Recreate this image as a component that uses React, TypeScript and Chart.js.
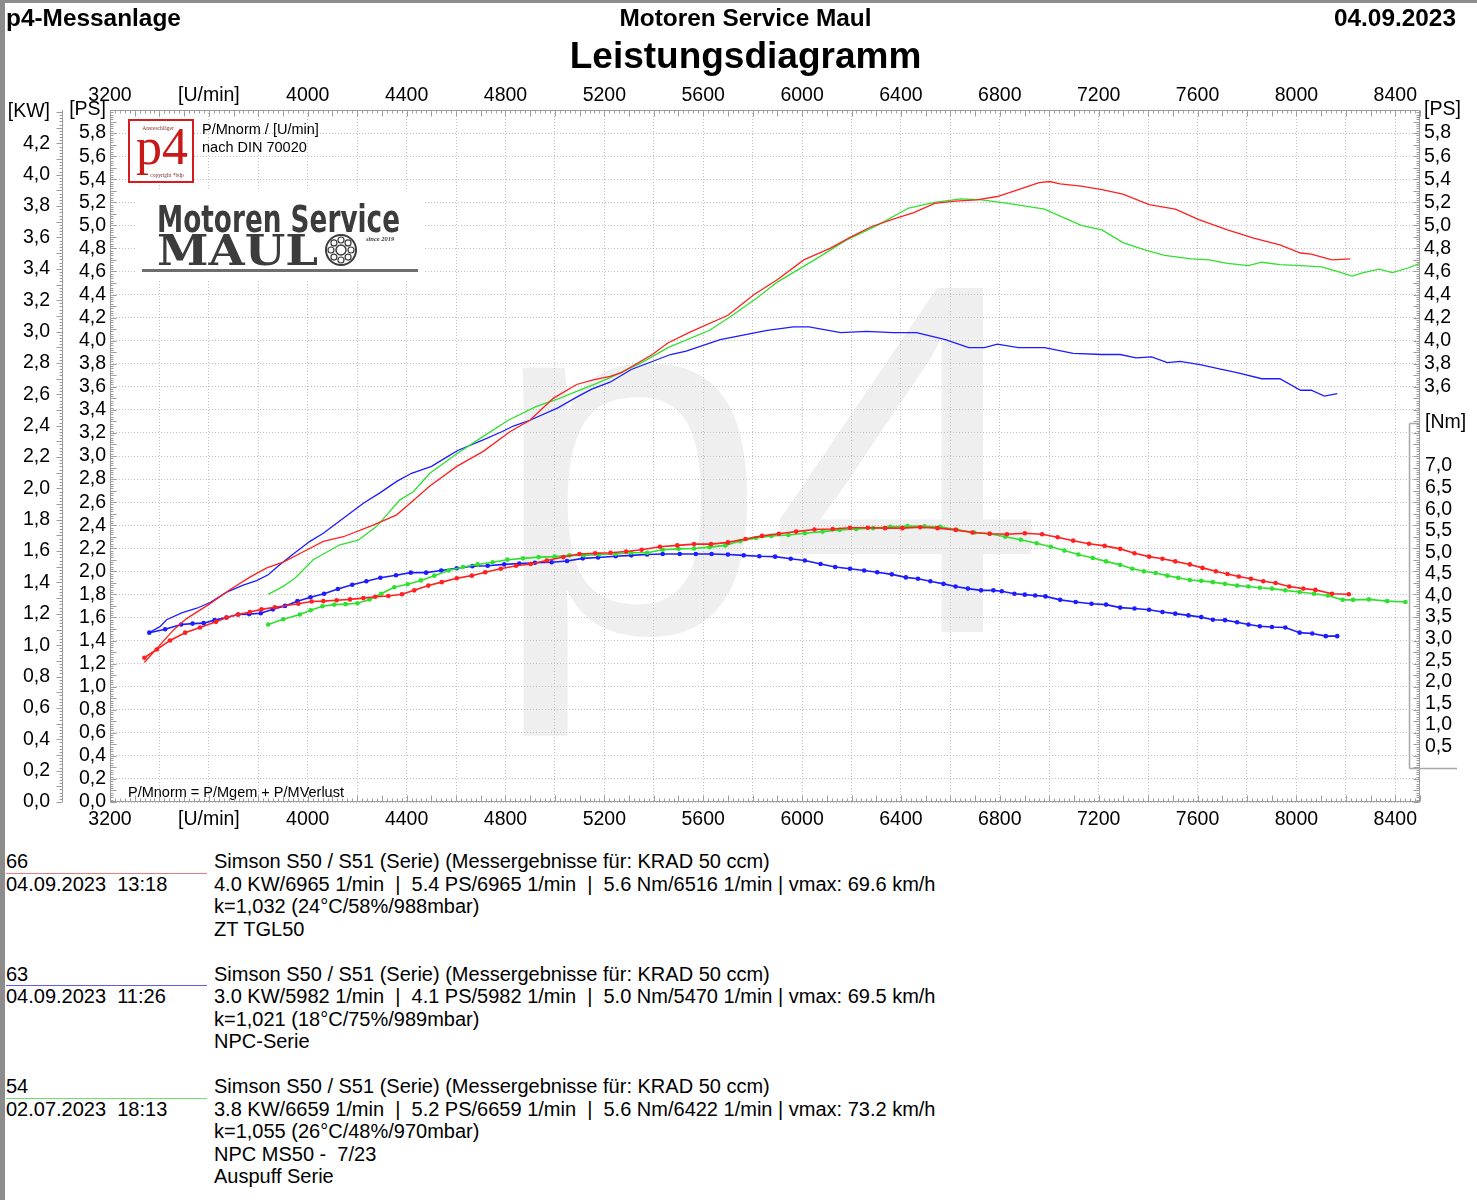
import React, { useEffect, useRef } from "react";
import { Chart, registerables } from "chart.js";
Chart.register(...registerables);

const FONT = '"Liberation Sans", Arial, Helvetica, sans-serif';

// ---------- data (rpm / values) ----------
const redPsRpm = [3339, 3389, 3456, 3510, 3605, 3685, 3766, 3834, 3901, 3982, 4063, 4144, 4265, 4360, 4414, 4494, 4603, 4710, 4818, 4899, 4993, 5088, 5155, 5223, 5267, 5394, 5457, 5542, 5700, 5806, 5901, 6007, 6113, 6198, 6282, 6378, 6452, 6536, 6621, 6706, 6790, 6875, 6959, 7002, 7044, 7129, 7213, 7298, 7404, 7510, 7605, 7721, 7827, 7933, 8017, 8060, 8144, 8218];
const redPs = [1.21, 1.33, 1.49, 1.59, 1.72, 1.84, 1.95, 2.03, 2.08, 2.17, 2.26, 2.30, 2.40, 2.49, 2.59, 2.74, 2.91, 3.04, 3.21, 3.31, 3.50, 3.62, 3.66, 3.69, 3.72, 3.88, 3.98, 4.07, 4.22, 4.40, 4.53, 4.70, 4.80, 4.90, 4.99, 5.06, 5.11, 5.19, 5.21, 5.22, 5.25, 5.31, 5.37, 5.38, 5.36, 5.34, 5.31, 5.27, 5.18, 5.14, 5.05, 4.96, 4.89, 4.83, 4.76, 4.75, 4.70, 4.71];

const bluePsRpm = [3359, 3402, 3429, 3490, 3551, 3605, 3672, 3739, 3793, 3840, 3888, 3935, 4009, 4063, 4144, 4225, 4292, 4360, 4420, 4501, 4562, 4609, 4710, 4785, 4832, 4899, 5014, 5088, 5149, 5223, 5309, 5468, 5531, 5669, 5859, 5965, 6028, 6156, 6261, 6367, 6463, 6580, 6674, 6738, 6790, 6875, 6981, 7097, 7213, 7287, 7351, 7414, 7478, 7530, 7615, 7679, 7764, 7860, 7933, 8017, 8060, 8113, 8165];
const bluePs = [1.47, 1.52, 1.58, 1.64, 1.68, 1.73, 1.82, 1.88, 1.92, 1.97, 2.06, 2.14, 2.26, 2.33, 2.46, 2.59, 2.68, 2.78, 2.85, 2.91, 2.99, 3.05, 3.14, 3.21, 3.26, 3.31, 3.42, 3.51, 3.58, 3.64, 3.75, 3.88, 3.91, 4.01, 4.09, 4.12, 4.12, 4.07, 4.08, 4.07, 4.07, 4.01, 3.94, 3.94, 3.97, 3.94, 3.94, 3.89, 3.88, 3.88, 3.85, 3.86, 3.81, 3.82, 3.79, 3.76, 3.72, 3.67, 3.67, 3.57, 3.57, 3.52, 3.54];

const greenPsRpm = [3840, 3901, 3948, 4022, 4130, 4204, 4279, 4373, 4427, 4494, 4603, 4710, 4811, 4926, 5007, 5088, 5169, 5223, 5351, 5457, 5626, 5711, 5817, 5901, 6050, 6177, 6304, 6431, 6536, 6643, 6727, 6832, 6981, 7129, 7213, 7298, 7383, 7467, 7573, 7647, 7721, 7806, 7859, 7933, 8017, 8102, 8165, 8225, 8271, 8335, 8388, 8451, 8500];
const greenPs = [1.80, 1.87, 1.94, 2.10, 2.23, 2.27, 2.39, 2.62, 2.69, 2.85, 3.02, 3.17, 3.31, 3.43, 3.49, 3.56, 3.63, 3.68, 3.81, 3.94, 4.09, 4.21, 4.37, 4.51, 4.70, 4.87, 5.00, 5.15, 5.20, 5.23, 5.22, 5.19, 5.14, 5.00, 4.96, 4.85, 4.79, 4.74, 4.71, 4.70, 4.67, 4.65, 4.68, 4.66, 4.65, 4.64, 4.60, 4.56, 4.59, 4.62, 4.59, 4.63, 4.67];

const redNmRpm = [3339, 3389, 3443, 3504, 3564, 3629, 3672, 3719, 3766, 3813, 3867, 3962, 4016, 4063, 4117, 4171, 4225, 4273, 4326, 4381, 4431, 4488, 4542, 4603, 4664, 4718, 4781, 4843, 4902, 4967, 5034, 5099, 5163, 5225, 5288, 5351, 5425, 5495, 5563, 5632, 5700, 5771, 5838, 5906, 5976, 6050, 6124, 6194, 6266, 6336, 6406, 6478, 6548, 6621, 6689, 6759, 6829, 6901, 6971, 7034, 7097, 7161, 7224, 7287, 7345, 7404, 7458, 7510, 7569, 7620, 7674, 7721, 7767, 7816, 7866, 7916, 7971, 8028, 8077, 8144, 8212];
const redNm = [2.56, 2.75, 2.96, 3.14, 3.26, 3.39, 3.49, 3.56, 3.62, 3.68, 3.73, 3.81, 3.86, 3.87, 3.89, 3.91, 3.94, 3.97, 3.99, 4.03, 4.12, 4.23, 4.31, 4.40, 4.46, 4.54, 4.62, 4.69, 4.73, 4.81, 4.89, 4.96, 4.98, 4.99, 5.02, 5.06, 5.13, 5.16, 5.19, 5.19, 5.23, 5.31, 5.38, 5.43, 5.48, 5.53, 5.54, 5.57, 5.57, 5.56, 5.56, 5.58, 5.56, 5.52, 5.46, 5.43, 5.42, 5.44, 5.42, 5.35, 5.27, 5.20, 5.15, 5.08, 4.98, 4.90, 4.85, 4.79, 4.72, 4.64, 4.56, 4.50, 4.44, 4.39, 4.33, 4.29, 4.21, 4.16, 4.13, 4.04, 4.03];

const blueNmRpm = [3359, 3423, 3488, 3534, 3579, 3623, 3671, 3718, 3763, 3810, 3859, 3908, 3958, 4011, 4066, 4122, 4180, 4237, 4294, 4357, 4417, 4479, 4540, 4603, 4666, 4728, 4795, 4856, 4919, 4987, 5049, 5113, 5175, 5246, 5309, 5373, 5436, 5505, 5570, 5634, 5700, 5764, 5827, 5891, 5954, 6011, 6075, 6134, 6194, 6251, 6304, 6363, 6420, 6469, 6519, 6572, 6621, 6671, 6724, 6774, 6808, 6859, 6901, 6943, 6985, 7044, 7107, 7171, 7230, 7287, 7345, 7404, 7458, 7510, 7563, 7615, 7662, 7711, 7760, 7806, 7852, 7901, 7955, 8013, 8064, 8119, 8165];
const blueNm = [3.14, 3.22, 3.33, 3.35, 3.36, 3.43, 3.49, 3.56, 3.57, 3.59, 3.68, 3.76, 3.87, 3.96, 4.04, 4.15, 4.25, 4.33, 4.41, 4.47, 4.53, 4.53, 4.58, 4.63, 4.68, 4.69, 4.72, 4.74, 4.76, 4.77, 4.80, 4.86, 4.88, 4.91, 4.93, 4.95, 4.96, 4.96, 4.96, 4.96, 4.95, 4.93, 4.91, 4.90, 4.85, 4.81, 4.73, 4.66, 4.62, 4.58, 4.54, 4.49, 4.42, 4.39, 4.33, 4.27, 4.21, 4.16, 4.12, 4.12, 4.10, 4.04, 4.02, 4.00, 3.98, 3.90, 3.85, 3.81, 3.79, 3.72, 3.70, 3.67, 3.62, 3.58, 3.54, 3.50, 3.44, 3.43, 3.38, 3.33, 3.29, 3.27, 3.26, 3.14, 3.12, 3.06, 3.06];

const greenNmRpm = [3840, 3901, 3968, 4012, 4059, 4107, 4153, 4201, 4250, 4297, 4350, 4404, 4458, 4512, 4570, 4628, 4687, 4748, 4808, 4871, 4934, 4999, 5059, 5117, 5179, 5246, 5309, 5373, 5436, 5500, 5563, 5626, 5690, 5750, 5813, 5876, 5945, 6011, 6083, 6152, 6219, 6288, 6357, 6427, 6495, 6559, 6625, 6697, 6759, 6822, 6885, 6949, 7006, 7061, 7118, 7176, 7230, 7287, 7336, 7383, 7430, 7478, 7522, 7569, 7615, 7662, 7711, 7760, 7806, 7852, 7901, 7955, 8013, 8071, 8127, 8187, 8229, 8293, 8367, 8441];
const greenNm = [3.33, 3.45, 3.56, 3.66, 3.75, 3.79, 3.80, 3.82, 3.91, 4.04, 4.19, 4.26, 4.35, 4.46, 4.58, 4.66, 4.72, 4.77, 4.83, 4.86, 4.89, 4.90, 4.93, 4.93, 4.95, 4.96, 4.99, 4.99, 5.06, 5.08, 5.09, 5.12, 5.16, 5.26, 5.33, 5.38, 5.40, 5.44, 5.48, 5.52, 5.54, 5.56, 5.59, 5.61, 5.60, 5.59, 5.52, 5.46, 5.43, 5.36, 5.29, 5.21, 5.13, 5.04, 4.95, 4.87, 4.79, 4.71, 4.62, 4.56, 4.52, 4.46, 4.41, 4.36, 4.34, 4.31, 4.27, 4.23, 4.21, 4.18, 4.16, 4.12, 4.08, 4.04, 4.00, 3.90, 3.90, 3.91, 3.87, 3.85];

// tick label lists
const xLabelSteps = [3200, 3600, 4000, 4400, 4800, 5200, 5600, 6000, 6400, 6800, 7200, 7600, 8000, 8400];
const xUnitLabel = "[U/min]";

// ---------- legend entries ----------
const runs = [
  { id: "66", date: "04.09.2023  13:18", color: "#f07c7c", lines: ["Simson S50 / S51 (Serie) (Messergebnisse für: KRAD 50 ccm)", "4.0 KW/6965 1/min  |  5.4 PS/6965 1/min  |  5.6 Nm/6516 1/min | vmax: 69.6 km/h", "k=1,032 (24°C/58%/988mbar)", "ZT TGL50"] },
  { id: "63", date: "04.09.2023  11:26", color: "#5c5cf0", lines: ["Simson S50 / S51 (Serie) (Messergebnisse für: KRAD 50 ccm)", "3.0 KW/5982 1/min  |  4.1 PS/5982 1/min  |  5.0 Nm/5470 1/min | vmax: 69.5 km/h", "k=1,021 (18°C/75%/989mbar)", "NPC-Serie"] },
  { id: "54", date: "02.07.2023  18:13", color: "#6ee06e", lines: ["Simson S50 / S51 (Serie) (Messergebnisse für: KRAD 50 ccm)", "3.8 KW/6659 1/min  |  5.2 PS/6659 1/min  |  5.6 Nm/6422 1/min | vmax: 73.2 km/h", "k=1,055 (26°C/48%/970mbar)", "NPC MS50 -  7/23", "Auspuff Serie"] },
];

const RED = "#ff2020";
const BLUE = "#1c1cff";
const GREEN = "#2fe02f";

const KW_FACTOR = 0.7355;
const NM_MIN = -0.78;
const NM_MAX = 15.24;

const comma = (v: number) => v.toFixed(1).replace(".", ",");
const pts = (xs: number[], ys: number[]) => xs.map((x, i) => ({ x, y: ys[i] }));

function fitText(ctx: CanvasRenderingContext2D, text: string, x: number, y: number, w: number) {
  const m = ctx.measureText(text).width;
  ctx.save();
  ctx.translate(x, y);
  ctx.scale(w / m, 1);
  ctx.fillText(text, 0, 0);
  ctx.restore();
}

const decor = {
  id: "decor",
  afterLayout(chart: any) {
    // give the torque axis room for its labels (it sits on top of the right PS axis)
    const s = chart.scales.yNm;
    if (s) {
      s.right = s.left + 57;
      s.width = 57;
    }
  },
  beforeDraw(chart: any) {
    const ctx = chart.ctx;
    const a = chart.chartArea;
    ctx.save();
    ctx.fillStyle = "#ffffff";
    ctx.fillRect(0, 0, chart.width, chart.height);
    ctx.beginPath();
    ctx.rect(a.left, a.top, a.right - a.left, a.bottom - a.top);
    ctx.clip();
    ctx.fillStyle = "#efefef";
    ctx.font = `500px ${FONT}`;
    ctx.textBaseline = "alphabetic";
    ctx.fillText("p4", 490, 632);
    ctx.restore();
  },
  beforeDatasetsDraw(chart: any) {
    const ctx = chart.ctx;
    ctx.save();
    // logo white background
    ctx.fillStyle = "#ffffff";
    ctx.fillRect(137, 189, 286, 90);
    // p4 box
    ctx.fillRect(128, 119, 66, 64);
    ctx.strokeStyle = "#d61c1c";
    ctx.lineWidth = 2;
    ctx.strokeRect(129, 120, 64, 62);
    ctx.fillStyle = "#c81818";
    ctx.font = '52px "Liberation Serif", "Times New Roman", serif';
    ctx.textBaseline = "alphabetic";
    ctx.fillText("p4", 136, 164);
    ctx.fillStyle = "#7a3030";
    ctx.font = '5.5px "Liberation Serif", serif';
    ctx.textAlign = "center";
    ctx.fillText("Ansreschläger", 158, 130);
    ctx.fillText("copyright *bdp", 167, 177);
    ctx.textAlign = "left";
    // texts
    ctx.fillStyle = "#000";
    ctx.font = `14.5px ${FONT}`;
    ctx.fillText("P/Mnorm / [U/min]", 202, 134);
    ctx.fillText("nach DIN 70020", 202, 152);
    ctx.fillText("P/Mnorm = P/Mgem + P/MVerlust", 128, 797);
    // Motoren Service MAUL logo
    ctx.fillStyle = "#3c3c3c";
    ctx.font = 'bold 37px "DejaVu Sans", sans-serif';
    fitText(ctx, "Motoren Service", 157, 232, 243);
    ctx.font = 'bold 42px "DejaVu Serif", serif';
    fitText(ctx, "MAUL", 157, 265, 161);
    // bearing
    ctx.strokeStyle = "#3c3c3c";
    ctx.lineWidth = 2;
    ctx.beginPath();
    ctx.arc(341, 250, 15, 0, Math.PI * 2);
    ctx.stroke();
    ctx.lineWidth = 1.5;
    ctx.beginPath();
    ctx.arc(341, 250, 5, 0, Math.PI * 2);
    ctx.stroke();
    ctx.lineWidth = 1.2;
    for (let k = 0; k < 8; k++) {
      const ang = (k * Math.PI) / 4;
      ctx.beginPath();
      ctx.arc(341 + Math.cos(ang) * 10, 250 + Math.sin(ang) * 10, 3, 0, Math.PI * 2);
      ctx.stroke();
    }
    ctx.fillStyle = "#3c3c3c";
    ctx.font = 'italic bold 6.5px "Liberation Serif", serif';
    ctx.fillText("since 2019", 366, 241);
    ctx.fillStyle = "#6e6e6e";
    ctx.fillRect(142, 269, 276, 3);
    ctx.restore();
  },
  afterDatasetsDraw(chart: any) {
    const ctx = chart.ctx;
    const a = chart.chartArea;
    const xs = chart.scales.x;
    const yp = chart.scales.yPS;
    const yk = chart.scales.yKW;
    const yn = chart.scales.yNm;
    ctx.save();
    ctx.strokeStyle = "#9c9c9c";
    ctx.lineWidth = 1;
    const line = (x1: number, y1: number, x2: number, y2: number) => {
      ctx.beginPath();
      ctx.moveTo(x1, y1);
      ctx.lineTo(x2, y2);
      ctx.stroke();
    };
    const L = Math.round(a.left) + 0.5;
    const R = Math.round(a.right) - 0.5;
    const T = Math.round(a.top) + 0.5;
    const B = Math.round(a.bottom) - 0.5;
    ctx.strokeRect(L, T, R - L, B - T);
    for (let r = 3200; r <= 8500; r += 20) {
      const px = Math.round(xs.getPixelForValue(r)) + 0.5;
      const len = r % 100 === 0 ? 6 : 3;
      line(px, B, px, B - len);
      line(px, T, px, T + len);
    }
    for (let i = 0; i <= 300; i++) {
      const py = Math.round(yp.getPixelForValue(i * 0.02)) + 0.5;
      const len = i % 5 === 0 ? 6 : 3;
      line(L, py, L + len, py);
      line(R, py, R - len, py);
    }
    // KW ruler
    const kx = 62.5;
    line(kx, yk.getPixelForValue(0), kx, a.top);
    for (let i = 0; i <= 220; i++) {
      const py = Math.round(yk.getPixelForValue(i * 0.02)) + 0.5;
      const len = i % 5 === 0 ? 6 : 3;
      line(kx - len, py, kx, py);
    }
    // Nm box
    const nt = Math.round(yn.getPixelForValue(8)) + 0.5;
    const nb = Math.round(yn.getPixelForValue(0)) + 0.5;
    ctx.strokeStyle = "#a8a8a8";
    ctx.lineWidth = 1.5;
    line(1409.5, nt, 1409.5, nb);
    line(1409.5, nt, 1419, nt);
    line(1409.5, nb, 1457, nb);
    ctx.restore();
  },
};

export default function App() {
  const ref = useRef<HTMLCanvasElement | null>(null);

  useEffect(() => {
    if (!ref.current) return;
    Chart.defaults.font.family = FONT;
    Chart.defaults.color = "#000";

    const gridY = { color: "#c2c2c2", lineWidth: 1, drawTicks: false };
    const tickFont = { size: 19.5, family: FONT };

    const xTicks = (scale: any) => {
      const t: any[] = [];
      for (let v = 3200; v <= 8400; v += 200) t.push({ value: v });
      scale.ticks = t;
    };
    const xLabel = (v: any) => {
      const n = Number(v);
      if (!xLabelSteps.includes(n)) return "";
      return n === 3600 ? xUnitLabel : String(n);
    };

    const chart = new Chart(ref.current, {
      type: "line",
      data: {
        datasets: [
          { label: "66 P", data: pts(redPsRpm, redPs), yAxisID: "yPS", borderColor: RED, borderWidth: 1.3, pointRadius: 0, tension: 0 },
          { label: "54 P", data: pts(greenPsRpm, greenPs), yAxisID: "yPS", borderColor: GREEN, borderWidth: 1.3, pointRadius: 0, tension: 0 },
          { label: "63 P", data: pts(bluePsRpm, bluePs), yAxisID: "yPS", borderColor: BLUE, borderWidth: 1.3, pointRadius: 0, tension: 0 },
          { label: "66 M", data: pts(redNmRpm, redNm), yAxisID: "yNm", borderColor: RED, backgroundColor: RED, borderWidth: 1.6, pointRadius: 2.3, pointBorderWidth: 0, pointBackgroundColor: RED, tension: 0 },
          { label: "54 M", data: pts(greenNmRpm, greenNm), yAxisID: "yNm", borderColor: GREEN, backgroundColor: GREEN, borderWidth: 1.6, pointRadius: 2.3, pointBorderWidth: 0, pointBackgroundColor: GREEN, tension: 0 },
          { label: "63 M", data: pts(blueNmRpm, blueNm), yAxisID: "yNm", borderColor: BLUE, backgroundColor: BLUE, borderWidth: 1.6, pointRadius: 2.3, pointBorderWidth: 0, pointBackgroundColor: BLUE, tension: 0 },
        ],
      },
      options: {
        animation: false,
        responsive: false,
        devicePixelRatio: 1,
        layout: { padding: { top: 80, left: 0, right: 0, bottom: 0 } },
        plugins: { legend: { display: false }, tooltip: { enabled: false }, title: { display: false } },
        scales: {
          x: {
            type: "linear", position: "bottom", min: 3200, max: 8500,
            afterBuildTicks: xTicks,
            afterFit: (s: any) => { s.height = 43; },
            grid: { color: "#c2c2c2", lineWidth: 1, drawTicks: false },
            border: { display: false, dash: [1, 2] },
            ticks: { autoSkip: false, maxRotation: 0, minRotation: 0, padding: 6, font: tickFont, color: "#000", callback: xLabel },
          },
          x2: {
            type: "linear", position: "top", min: 3200, max: 8500,
            afterBuildTicks: xTicks,
            afterFit: (s: any) => { s.height = 30; },
            grid: { display: false, drawTicks: false },
            border: { display: false },
            ticks: { autoSkip: false, maxRotation: 0, minRotation: 0, padding: 3, font: tickFont, color: "#000", callback: xLabel },
          },
          yPS: {
            type: "linear", position: "left", min: 0, max: 6, weight: 0,
            afterBuildTicks: (s: any) => { const t: any[] = []; for (let i = 0; i <= 30; i++) t.push({ value: +(i * 0.2).toFixed(2) }); s.ticks = t; },
            afterFit: (s: any) => { s.width = 48; },
            grid: gridY,
            border: { display: false, dash: [1, 2] },
            ticks: { autoSkip: false, padding: 4, font: tickFont, color: "#000", callback: (v: any) => (Math.round(Number(v) * 10) === 60 ? "[PS]" : comma(Number(v))) },
          },
          yKW: {
            type: "linear", position: "left", min: 0, max: 6 * KW_FACTOR, weight: 1,
            afterBuildTicks: (s: any) => { const t: any[] = []; for (let i = 0; i <= 22; i++) t.push({ value: +(i * 0.2).toFixed(2) }); s.ticks = t; },
            afterFit: (s: any) => { s.width = 62; },
            grid: { display: false, drawOnChartArea: false, drawTicks: false },
            border: { display: false },
            ticks: { autoSkip: false, padding: 12, font: tickFont, color: "#000", callback: (v: any) => (Math.round(Number(v) * 10) === 44 ? "[KW]" : comma(Number(v))) },
          },
          yNm: {
            type: "linear", position: "right", min: NM_MIN, max: NM_MAX, weight: 0,
            afterBuildTicks: (s: any) => { const t: any[] = []; for (let i = 1; i <= 14; i++) t.push({ value: i * 0.5 }); t.push({ value: 8 }); s.ticks = t; },
            afterFit: (s: any) => { s.width = 0; },
            grid: { display: false, drawOnChartArea: false, drawTicks: false },
            border: { display: false },
            ticks: { autoSkip: false, padding: 5, font: tickFont, color: "#000", callback: (v: any) => (Number(v) === 8 ? "[Nm]" : comma(Number(v))) },
          },
          yPSr: {
            type: "linear", position: "right", min: 0, max: 6, weight: 1,
            afterBuildTicks: (s: any) => { const t: any[] = []; for (let i = 18; i <= 30; i++) t.push({ value: +(i * 0.2).toFixed(2) }); s.ticks = t; },
            afterFit: (s: any) => { s.width = 57; },
            grid: { display: false, drawOnChartArea: false, drawTicks: false },
            border: { display: false },
            ticks: { autoSkip: false, padding: 4, font: tickFont, color: "#000", callback: (v: any) => (Math.round(Number(v) * 10) === 60 ? "[PS]" : comma(Number(v))) },
          },
        },
      } as any,
      plugins: [decor],
    });
    return () => chart.destroy();
  }, []);

  const hdr: React.CSSProperties = { position: "absolute", top: 5.7, fontSize: 24.4, lineHeight: "24px", fontWeight: "bold", whiteSpace: "pre" };
  const lg: React.CSSProperties = { position: "absolute", fontSize: 20, lineHeight: "22.5px", whiteSpace: "pre", color: "#000" };

  return (
    <div style={{ position: "absolute", left: 0, top: 0, width: 1477, height: 1200, background: "#fff", overflow: "hidden", fontFamily: FONT, color: "#000" }}>
      <canvas ref={ref} width={1477} height={845} style={{ position: "absolute", left: 0, top: 0, width: 1477, height: 845 }} />
      <div style={{ ...hdr, left: 6 }}>p4-Messanlage</div>
      <div style={{ ...hdr, left: 345.5, width: 800, textAlign: "center" }}>Motoren Service Maul</div>
      <div style={{ ...hdr, left: 1056, width: 400, textAlign: "right" }}>04.09.2023</div>
      <div style={{ position: "absolute", top: 36.5, left: 345.5, width: 800, textAlign: "center", fontSize: 37, lineHeight: "37px", fontWeight: "bold" }}>Leistungsdiagramm</div>
      {runs.map((r, k) => {
        const top = 850 + k * 112.5;
        return (
          <React.Fragment key={r.id}>
            <div style={{ ...lg, left: 6, top }}>{r.id + "\n" + r.date}</div>
            <div style={{ position: "absolute", left: 6, top: top + 22.5, width: 201, height: 1, background: r.color }} />
            <div style={{ ...lg, left: 214, top }}>{r.lines.join("\n")}</div>
          </React.Fragment>
        );
      })}
      <div style={{ position: "absolute", left: 0, top: 0, width: 1477, height: 3, background: "#8c8c8c" }} />
      <div style={{ position: "absolute", left: 0, top: 0, width: 5, height: 1200, background: "#8c8c8c" }} />
    </div>
  );
}
